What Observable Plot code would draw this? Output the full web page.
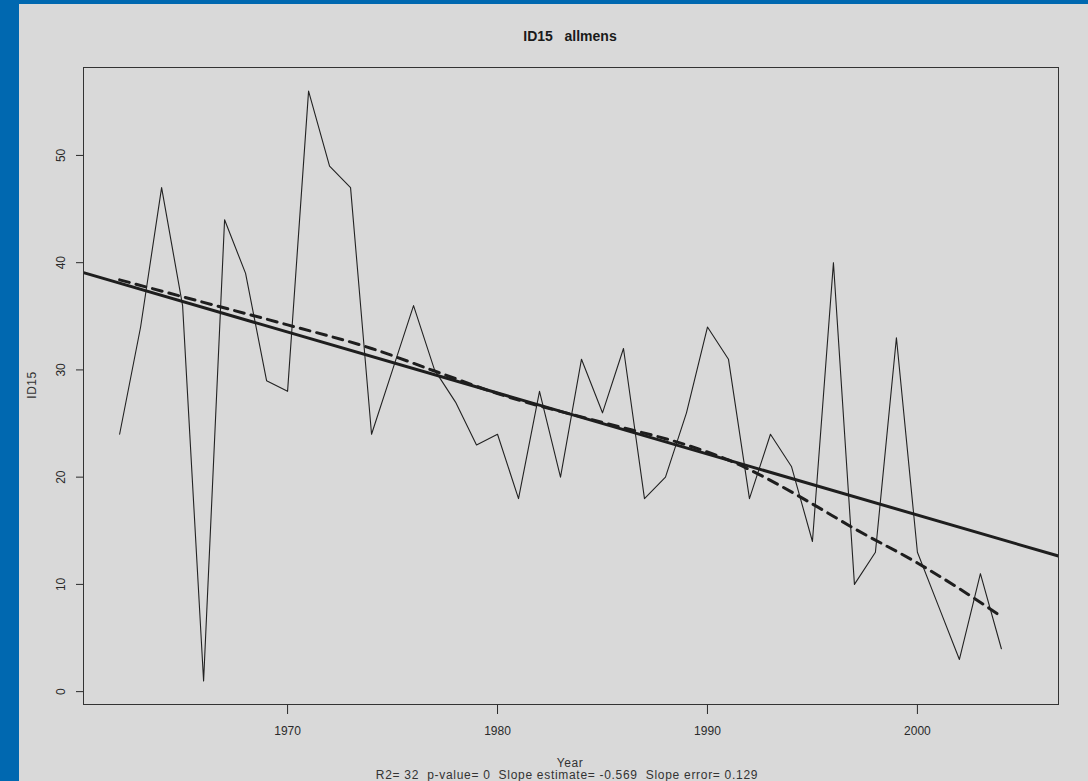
<!DOCTYPE html>
<html>
<head>
<meta charset="utf-8">
<script src="https://cdn.jsdelivr.net/npm/d3@7"></script>
<script src="https://cdn.jsdelivr.net/npm/@observablehq/plot@0.6"></script>
<style>
  html, body { margin: 0; padding: 0; }
  body { width: 1088px; height: 781px; background: #0068b0; position: relative; overflow: hidden;
         font-family: "Liberation Sans", Arial, Helvetica, sans-serif; color: #222; }
  #panel { position: absolute; left: 19px; top: 4px; right: 0; bottom: 0; background: #d9d9d9; }
  #chart { position: absolute; left: 0; top: 0; }
  .lbl { position: absolute; white-space: pre; transform: translate(-50%, -50%); line-height: 1; }
  #title { left: 570px; top: 36px; font-size: 14px; font-weight: bold; color: #1a1a1a; }
  #xlab { left: 570px; top: 763px; font-size: 12px; letter-spacing: 0.6px; color: #333; }
  #cap { left: 567px; top: 775px; font-size: 12px; letter-spacing: 0.7px; color: #333; }
  #ylab { left: 32px; top: 385px; font-size: 12px; letter-spacing: 0.5px; color: #333; transform: translate(-50%, -50%) rotate(-90deg); }
</style>
</head>
<body>
<div id="panel"></div>
<div id="chart"></div>
<div class="lbl" id="title"></div>
<div class="lbl" id="xlab"></div>
<div class="lbl" id="cap"></div>
<div class="lbl" id="ylab"></div>
<script>
// ---- data ----
const years = [1962,1963,1964,1965,1966,1967,1968,1969,1970,1971,1972,1973,1974,1975,1976,1977,1978,1979,1980,1981,1982,1983,1984,1985,1986,1987,1988,1989,1990,1991,1992,1993,1994,1995,1996,1997,1998,1999,2000,2001,2002,2003,2004];
const id15  = [24,34,47,36,1,44,39,29,28,56,49,47,24,30,36,30,27,23,24,18,28,20,31,26,32,18,20,26,34,31,18,24,21,14,40,10,13,33,13,8,3,11,4];

// smoothed (dashed) curve
const smoothYears  = [1962,1966,1970,1974,1977,1980,1985,1989,1991,1993,1995,1997,2000,2002,2004];
const smoothValues = [38.4,36.3,34.2,32.0,29.9,27.8,25.1,23.0,21.6,19.7,17.5,15.2,12.0,9.6,7.0];

// statistics printed under the chart
const r2 = "32";
const pValue = "0";
const slopeEstimate = -0.569;
const slopeError = 0.129;

const xTicks = [1970, 1980, 1990, 2000];
const yTicks = [0, 10, 20, 30, 40, 50];

const titleText = "ID15   allmens";
const xLabel = "Year";
const yLabel = "ID15";

// ---- derived ----
const series = years.map((y, i) => ({year: y, value: id15[i]}));
const smooth = smoothYears.map((y, i) => ({year: y, value: smoothValues[i]}));

// R-style 4% padding of the axis ranges
const xMin = 1962, xMax = 2005;
const xPad = (xMax - xMin) * 0.04;
const xDomain = [xMin - xPad, xMax + xPad];
const yMin = d3.min(id15), yMax = d3.max(id15);
const yPad = (yMax - yMin) * 0.04;
const yDomain = [yMin - yPad, yMax + yPad];

// regression line through the means with the printed slope, drawn across the plot (abline)
const meanYear = d3.mean(years), meanValue = d3.mean(id15);
const fit = xDomain.map(x => ({year: x, value: meanValue + slopeEstimate * (x - meanYear)}));

const chart = Plot.plot({
  width: 1088,
  height: 781,
  marginLeft: 83,
  marginRight: 30,
  marginTop: 67,
  marginBottom: 77,
  style: {background: "transparent", fontFamily: "Liberation Sans, Arial, sans-serif", fontSize: "12px", color: "#2a2a2a"},
  x: {domain: xDomain, label: null},
  y: {domain: yDomain, label: null},
  marks: [
    Plot.axisX({ticks: xTicks, tickSize: 10, tickPadding: 12, tickFormat: d => String(d), label: null, fontSize: 12}),
    Plot.axisY({ticks: yTicks, tickSize: 7, tickPadding: 12, tickRotate: -90, label: null, fontSize: 12}),
    Plot.line(series, {x: "year", y: "value", stroke: "#222", strokeWidth: 1.1}),
    Plot.line(fit, {x: "year", y: "value", stroke: "#1e1e1e", strokeWidth: 3, clip: true}),
    Plot.line(smooth, {x: "year", y: "value", stroke: "#1e1e1e", strokeWidth: 3, strokeDasharray: "10,7", curve: "monotone-x"}),
    Plot.frame({stroke: "#333", strokeWidth: 1})
  ]
});
document.getElementById("chart").appendChild(chart);

document.getElementById("title").textContent = titleText;
document.getElementById("xlab").textContent = xLabel;
document.getElementById("ylab").textContent = yLabel;
document.getElementById("cap").textContent =
  `R2= ${r2}  p-value= ${pValue}  Slope estimate= ${slopeEstimate}  Slope error= ${slopeError}`;
</script>
</body>
</html>
